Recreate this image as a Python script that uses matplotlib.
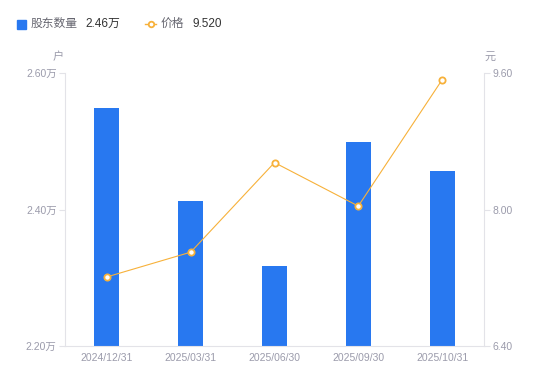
import matplotlib.pyplot as plt
from matplotlib.lines import Line2D
import numpy as np

plt.rcParams['font.family'] = ['Liberation Sans', 'Noto Sans CJK SC', 'DejaVu Sans']

# 数据
dates = ['2024/12/31', '2025/03/31', '2025/06/30', '2025/09/30', '2025/10/31']
holders = [2.549, 2.413, 2.317, 2.499, 2.456]   # 万户
prices = [7.21, 7.50, 8.55, 8.04, 9.52]        # 元
left_ticks = [2.20, 2.40, 2.60]
right_ticks = [6.40, 8.00, 9.60]

bar_color = '#2878f0'
line_color = '#f7b13a'
tick_color = '#9b9bab'
axis_color = '#e3e3e8'

fig = plt.figure(figsize=(5.5, 3.81), dpi=100)
ax = fig.add_axes([65 / 550, 1 - 346 / 381, 419 / 550, 273 / 381])
x = np.arange(len(dates))
ax.bar(x, holders, width=0.3, color=bar_color, zorder=2)
ax.set_xlim(-0.5, len(dates) - 0.5)
ax.set_ylim(2.20, 2.60)
ax.set_yticks(left_ticks)
ax.set_yticklabels(['%.2f万' % v for v in left_ticks])
ax.set_xticks(x)
ax.set_xticklabels(dates)

ax2 = ax.twinx()
ax2.plot(x, prices, color=line_color, lw=0.8, marker='o', ms=4.5,
         mfc='white', mec=line_color, mew=1.3, zorder=3)
ax2.set_ylim(6.40, 9.60)
ax2.set_yticks(right_ticks)
ax2.set_yticklabels(['%.2f' % v for v in right_ticks])

for a in (ax, ax2):
    for s in a.spines.values():
        s.set_visible(False)
ax.spines['left'].set_visible(True)
ax.spines['left'].set_color(axis_color)
ax.spines['bottom'].set_visible(True)
ax.spines['bottom'].set_color(axis_color)
ax2.spines['right'].set_visible(True)
ax2.spines['right'].set_color(axis_color)

ax.tick_params(axis='y', colors=axis_color, labelcolor=tick_color, labelsize=7.5, length=4, width=0.8, pad=2)
ax.tick_params(axis='x', length=0, labelcolor=tick_color, labelsize=7.5, pad=5)
ax2.tick_params(axis='y', colors=axis_color, labelcolor=tick_color, labelsize=7.5, length=4, width=0.8, pad=2)

# 单位
fig.text(58 / 550, 1 - 57 / 381, '户', fontsize=8, color=tick_color, ha='center', va='center')
fig.text(490 / 550, 1 - 57 / 381, '元', fontsize=8, color=tick_color, ha='center', va='center')

# 图例
fig.patches.append(plt.Rectangle((17 / 550, 1 - 29 / 381), 9 / 550, 9 / 381,
                                 transform=fig.transFigure, color=bar_color))
fig.text(31 / 550, 1 - 24 / 381, '股东数量', fontsize=8.5, color='#666670', va='center')
fig.text(85 / 550, 1 - 24 / 381, '2.46万', fontsize=8.5, color='#333333', va='center')
fig.lines.append(Line2D([145 / 550, 156 / 550], [1 - 24 / 381] * 2, transform=fig.transFigure,
                        color=line_color, lw=1))
fig.lines.append(Line2D([150.5 / 550], [1 - 24 / 381], transform=fig.transFigure,
                        marker='o', ms=4, mfc='white', mec=line_color, mew=1.3))
fig.text(161 / 550, 1 - 24 / 381, '价格', fontsize=8.5, color='#666670', va='center')
fig.text(192 / 550, 1 - 24 / 381, '9.520', fontsize=8.5, color='#333333', va='center')

fig.savefig('out.png', dpi=100)
